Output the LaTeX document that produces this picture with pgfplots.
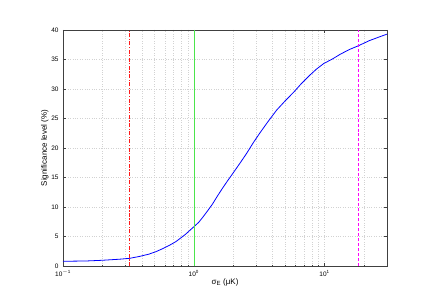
\documentclass[border=0pt]{standalone}
\usepackage{fontspec}
\setmainfont{Liberation Sans}
\usepackage{pgfplots}
\pgfplotsset{compat=1.18}
\definecolor{mred}{rgb}{1,0.1,0.1}
\definecolor{mgreen}{rgb}{0.3,0.9,0.3}
\definecolor{mmag}{rgb}{1,0,1}
\definecolor{mblue}{rgb}{0,0,1}
\begin{document}
\begin{tikzpicture}
\begin{axis}[
  xmode=log,
  scale only axis,
  width=324bp, height=236bp,
  xmin=0.1, xmax=30,
  ymin=0, ymax=40,
  ytick={0,5,...,40},
  xtick={0.1,1,10},
  xticklabels={10\textsuperscript{$-$1},10\textsuperscript{0},10\textsuperscript{1}},
  minor xtick={0.2,0.3,0.4,0.5,0.6,0.7,0.8,0.9,2,3,4,5,6,7,8,9,20,30},
  /pgf/number format/assume math mode=true,
  tick label style={font=\fontsize{6.5}{7}\selectfont},
  label style={font=\fontsize{8}{9}\selectfont},
  xlabel={σ\textsubscript{E} (μK)},
  ylabel={Significance level (\%)},
  xlabel style={yshift=5pt},
  ylabel style={yshift=-4pt},
  tick align=inside,
  major tick length=3bp, minor tick length=1.5bp,
  grid=both,
  major grid style={gray!35, dotted, line width=0.4pt},
  minor grid style={gray!35, dotted, line width=0.4pt},
  axis line style={black!75, line width=0.5pt},
  every tick/.style={black!75},
  y tick label style={xshift=-1pt},
  x tick label style={yshift=-1pt},
]
\addplot[color=mblue, line width=0.8pt] coordinates {
(0.1,0.8) (0.15,0.85) (0.2,0.97) (0.27,1.15) (0.323,1.3) (0.38,1.6) (0.452,2.0) (0.51,2.4) (0.573,2.9)
(0.65,3.5) (0.726,4.1) (0.8,4.8) (0.867,5.4) (0.95,6.2) (1.018,6.8) (1.09,7.4) (1.165,8.2)
(1.27,9.3) (1.39,10.5) (1.52,11.9) (1.66,13.2) (1.82,14.5) (1.99,15.7) (2.25,17.4)
(2.52,19.0) (2.85,20.9) (3.19,22.5) (3.7,24.5) (4.29,26.4) (5.0,28.0) (5.77,29.4)
(6.7,31.0) (7.76,32.4) (8.7,33.4) (9.83,34.3) (11.5,35.1) (13.2,35.9) (15.5,36.7)
(18.0,37.3) (22,38.2) (26,38.8) (30,39.3)};
\addplot[draw=mred, line width=1.3pt, dash pattern=on 4pt off 1.5pt on 1.2pt off 1.5pt] coordinates {(0.323,0) (0.323,40)};
\addplot[color=mgreen, line width=1.2pt] coordinates {(1.018,0) (1.018,40)};
\addplot[color=mmag, line width=0.9pt, dash pattern=on 3pt off 2pt] coordinates {(18.0,0) (18.0,40)};
\end{axis}
\pgfresetboundingbox
\path (-63bp,-42bp) rectangle (373bp,266bp);
\end{tikzpicture}
\end{document}
